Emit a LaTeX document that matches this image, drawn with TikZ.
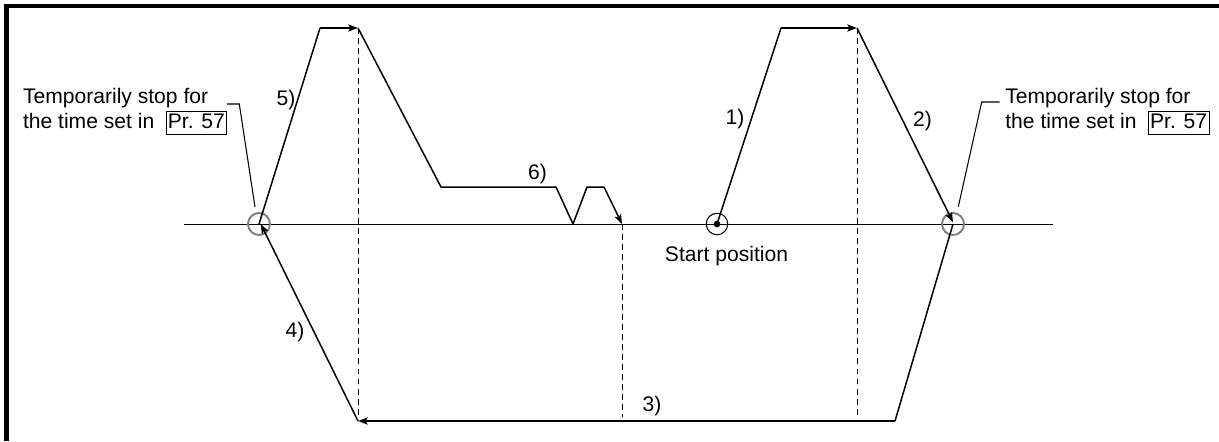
\documentclass[tikz,border=0pt]{standalone}
\usepackage{fontspec}
\setmainfont{Liberation Sans}
\usetikzlibrary{arrows.meta, positioning}

\begin{document}
\begin{tikzpicture}[x=0.02cm, y=-0.02cm, font=\fontsize{12}{14}\selectfont,
    move/.style={line width=0.85pt, line join=round},
    hold/.style={line width=1.25pt},
    tip/.style={-{Stealth[length=5.5pt, width=4pt, inset=1.2pt]}},
    guide/.style={line width=0.5pt, dash pattern=on 3.4pt off 2.3pt},
    leader/.style={line width=0.6pt},
    stopring/.style={circle, draw=gray, line width=1.1pt, minimum size=0.44cm, inner sep=0pt},
    startring/.style={circle, draw, line width=0.6pt, minimum size=0.43cm, inner sep=0pt},
    steplabel/.style={inner sep=0pt},
    note/.style={anchor=base west, inner sep=0pt},
    prbox/.style={draw, line width=0.5pt, inner xsep=1pt, inner ysep=0.6pt, text height=8.7pt, text depth=3.2pt}]
        \useasboundingbox (0,0) rectangle (1219,441);
        % Frame
        \draw[line width=2.3pt] (6.5,441) -- (6.5,6) -- (1219,6);
        % Axis and marks
        \draw[line width=0.55pt] (184,224) -- (1053,224);
        \node[stopring] (stopL) at (259,224) {};
        \node[stopring] (stopR) at (953,224) {};
        \node[startring] (start) at (717,224) {};
        \fill (start.center) circle (1.9pt);
        \node[anchor=base, inner sep=0pt] (startlbl) at (726.5,261.7) {Start position};
        % Corner points
        \coordinate (top1) at (781,28);
        \coordinate (top2) at (857,28);
        \coordinate (bot3) at (895,421);
        \coordinate (bot4) at (358,421);
        \coordinate (top5) at (320,28);
        \coordinate (top6) at (358,28);
        \coordinate (low6a) at (441,187);
        \coordinate (low6b) at (556,187);
        \coordinate (dip6) at (573,224);
        \coordinate (low6c) at (587,187);
        \coordinate (low6d) at (604,187);
        \coordinate (end6) at (622,224);
        % Guide lines
        \draw[guide] (top6) -- (358,417);
        \draw[guide] (top2) -- (857,417);
        \draw[guide] (end6) -- (622,417);
        % Move 1)
        \draw[move] (start.center) -- (top1);
        \draw[hold, tip] (top1) -- (top2);
        \node[steplabel] (lab1) at (735,119) {1)};
        % Move 2)
        \draw[move, tip] (top2) -- ([yshift=1pt]stopR.center);
        \node[steplabel] (lab2) at (922.5,121.5) {2)};
        % Move 3)
        \draw[move] (stopR.center) -- (bot3);
        \draw[hold, tip] (bot3) -- (bot4);
        \node[steplabel] (lab3) at (652,406) {3)};
        % Move 4)
        \draw[move, tip] (bot4) -- ([xshift=1pt]stopL.center);
        \node[steplabel] (lab4) at (295,332) {4)};
        % Move 5)
        \draw[move] (stopL.center) -- (top5);
        \draw[hold, tip] (top5) -- (top6);
        \node[steplabel] (lab5) at (286,100) {5)};
        % Move 6)
        \draw[move, tip] (top6) -- (low6a) -- (low6b) -- (dip6) -- (low6c) -- (low6d) -- (end6);
        \node[steplabel] (lab6) at (537.5,174) {6)};
        % Note left
        \node[note] (noteL1) at (22.7,103.3) {Temporarily stop for};
        \node[note] (noteL2) at (22.7,128) {the time set in};
        \node[prbox, base right=0.22cm of noteL2] (prL) {Pr. 57};
        \coordinate (kneeL) at (239.3,104);
        \coordinate (tipL) at (255,207);
        \draw[leader] (prL.east |- kneeL) -- (kneeL) -- (tipL);
        % Note right
        \node[note] (noteR1) at (1005,103) {Temporarily stop for};
        \node[note] (noteR2) at (1005,128) {the time set in};
        \node[prbox, base right=0.22cm of noteR2] (prR) {Pr. 57};
        \coordinate (kneeR) at (981.7,102);
        \coordinate (tipR) at (958.3,206.7);
        \draw[leader] ([xshift=-3pt]noteR1.base west |- kneeR) -- (kneeR) -- (tipR);
\end{tikzpicture}
\end{document}
